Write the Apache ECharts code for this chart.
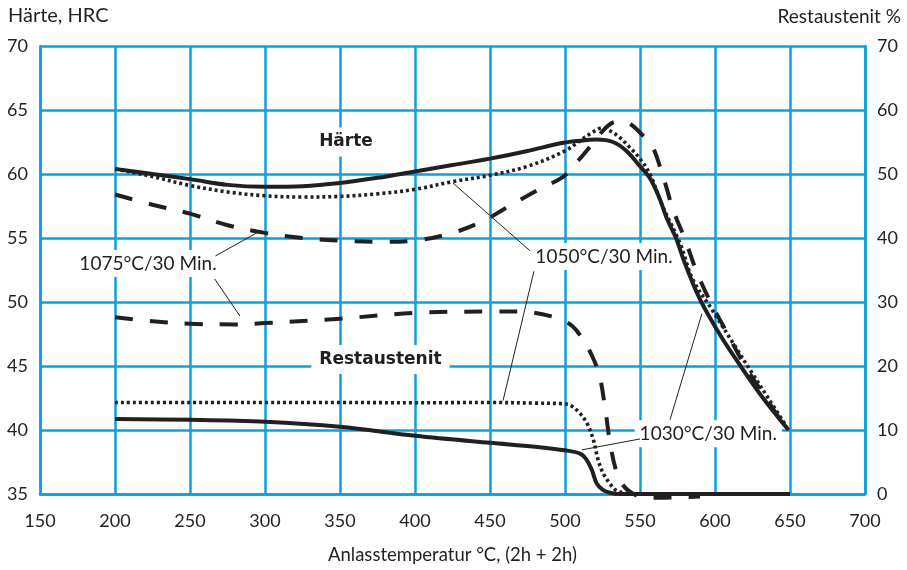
<!DOCTYPE html>
<html><head><meta charset="utf-8">
<script src="https://cdn.jsdelivr.net/npm/echarts@6/dist/echarts.min.js"></script>
<style>html,body{margin:0;padding:0;background:#fff}#c{width:907px;height:570px}</style>
</head><body><div id="c"></div>
<script>
// ---- data (x = Anlasstemperatur °C) ----
const xMin = 150, xMax = 700, xStep = 50;
const hrcMin = 35, hrcMax = 70, hrcStep = 5;
const raMin = 0, raMax = 70, raStep = 10;

const haerte1030 = [[200,60.4],[225,60.0],[250,59.6],[275,59.15],[300,59.0],[325,59.05],[350,59.3],[375,59.7],[400,60.2],[425,60.7],[450,61.2],[475,61.8],[497,62.4],[510,62.6],[521,62.7],[532,62.5],[541,61.8],[550,60.6],[557,59.6],[563,58.1],[568,56.5],[574,55.0],[580,53.0],[590,50.2],[603,47.5],[617,45.0],[632,42.5],[649,40.0]];
const haerte1050 = [[200,60.4],[225,59.8],[250,59.1],[275,58.6],[300,58.3],[325,58.2],[350,58.25],[375,58.45],[400,58.8],[425,59.4],[450,59.9],[475,60.6],[500,61.8],[510,62.6],[519,63.3],[525,63.6],[531,63.3],[537,62.8],[543,62.1],[550,61.2],[557,59.9],[565,57.5],[577,54.5],[585,51.8],[598,49.4],[612,46.8],[625,44.4],[636,42.4],[648,40.2]];
const haerte1075 = [[200,58.4],[225,57.6],[250,56.9],[275,56.0],[300,55.4],[325,55.0],[350,54.8],[375,54.7],[400,54.8],[425,55.4],[445,56.3],[460,57.3],[481,58.7],[499,59.8],[507,60.8],[515,61.9],[521,62.8],[530,63.9],[536,64.1],[542,64.0],[552,63.0],[558,62.2],[563,60.7],[568,58.8],[572,57.2],[580,54.9],[588,52.3],[597,50.0],[608,47.6],[620,45.0],[634,42.5],[648,40.0]];

const rest1030 = [[200,11.7],[250,11.6],[300,11.3],[350,10.5],[400,9.1],[450,8.0],[480,7.4],[501,6.8],[510,6.3],[514,5.5],[518,3.7],[521,1.7],[525,0.7],[530,0.2],[537,0],[600,0],[650,0]];
const rest1050 = [[200,14.3],[250,14.3],[300,14.3],[350,14.3],[400,14.25],[450,14.3],[480,14.2],[499,14.1],[504,13.8],[510,12.6],[515,10.9],[519,8.4],[522,5.4],[525.5,3.2],[530,1.6],[534,0.6],[541,0.1],[555,0]];
const rest1075 = [[200,27.6],[225,27.0],[250,26.6],[280,26.5],[300,26.7],[350,27.4],[400,28.3],[450,28.5],[470,28.5],[495,27.5],[505,26.2],[512,24.1],[518,21.6],[523,18.5],[527,13.0],[530,8.0],[534,3.7],[538,1.6],[543,0.4],[550,-0.4],[560,-0.6],[575,-0.5],[590,-0.4]];

// annotations (anchored in data coordinates, left HRC axis)
const textLabels = [
  {text:'Härte', x:354, y:62.5, bold:true},
  {text:'Restaustenit', x:377, y:45.5, bold:true},
  {text:'1075°C/30 Min.', x:222, y:53.0},
  {text:'1050°C/30 Min.', x:526, y:53.55},
  {text:'1030°C/30 Min.', x:595.5, y:39.7}
];
const leaderLines = [
  [[267,53.6],[296,55.5]],
  [[266.5,51.8],[283.3,48.9]],
  [[476.7,54.0],[425.3,59.3]],
  [[479.3,52.4],[458.7,42.3]],
  [[570,40.8],[591.3,49.1]],
  [[550,39.3],[511.3,38.45]]
];

const BLUE = '#0f9fdb', INK = '#231f20';
const FONT = 'Lato';
const chart = echarts.init(document.getElementById('c'), null, {renderer:'canvas'});

const curve = (name, data, yIdx, type) => ({
  name, type:'line', data, yAxisIndex:yIdx, showSymbol:false, symbol:'none',
  smooth:0.35, clip:false, z:5, silent:true,
  lineStyle:{color:INK, width: type==='solid'?4:(type==='dotted'?3.6:4),
    type: type==='solid'?'solid':(type==='dotted'?[3,3]:[18,17]), cap:'butt', join:'round'}
});

const series = [
  curve('1030 Härte', haerte1030, 0, 'solid'),
  curve('1050 Härte', haerte1050, 0, 'dotted'),
  curve('1075 Härte', haerte1075, 0, 'dashed'),
  curve('1030 Rest', rest1030, 1, 'solid'),
  curve('1050 Rest', rest1050, 1, 'dotted'),
  curve('1075 Rest', rest1075, 1, 'dashed')
];
leaderLines.forEach((l,i)=>series.push({
  type:'line', data:l, yAxisIndex:0, symbol:'none', silent:true, z:4, clip:false,
  lineStyle:{color:INK, width:1}
}));
textLabels.forEach(t=>series.push({
  type:'scatter', data:[[t.x,t.y]], yAxisIndex:0, symbolSize:0, silent:true, z:3,
  itemStyle:{opacity:1},
  label:{show:true, position:'inside', formatter:t.text, opacity:1,
    fontFamily: t.bold ? 'DejaVu Sans' : FONT, fontWeight: t.bold?'bold':'normal',
    fontSize: t.bold?17:19, color:INK, backgroundColor:'#fff', padding: t.bold?[6,8]:[4,5]}
}));

chart.setOption({
  animation:false,
  backgroundColor:'#fff',
  grid:{left:40, right:42, top:46, bottom:73, containLabel:false},
  xAxis:{type:'value', min:xMin, max:xMax, interval:xStep,
    name:'Anlasstemperatur °C, (2h + 2h)', nameLocation:'middle', nameGap:52,
    nameTextStyle:{fontFamily:FONT, fontSize:18.5, color:INK},
    axisLine:{show:true, lineStyle:{color:BLUE, width:2.5}},
    axisTick:{show:false},
    axisLabel:{fontFamily:FONT, fontSize:18, color:INK, margin:18},
    splitLine:{show:true, lineStyle:{color:BLUE, width:2.5}}},
  yAxis:[
    {type:'value', min:hrcMin, max:hrcMax, interval:hrcStep, position:'left',
     axisLine:{show:true, lineStyle:{color:BLUE, width:2.5}}, axisTick:{show:false},
     axisLabel:{fontFamily:FONT, fontSize:18, color:INK, margin:12},
     splitLine:{show:true, lineStyle:{color:BLUE, width:2.5}}},
    {type:'value', min:raMin, max:raMax, interval:raStep, position:'right',
     axisLine:{show:true, lineStyle:{color:BLUE, width:2.5}}, axisTick:{show:false},
     axisLabel:{fontFamily:FONT, fontSize:18, color:INK, margin:12},
     splitLine:{show:false}}
  ],
  graphic:[
    {type:'text', left:8, top:6, style:{text:'Härte, HRC', fontFamily:FONT, fontSize:20, fill:INK}},
    {type:'text', right:6, top:7, style:{text:'Restaustenit %', fontFamily:FONT, fontSize:19, fill:INK}}
  ],
  series
});
</script></body></html>
